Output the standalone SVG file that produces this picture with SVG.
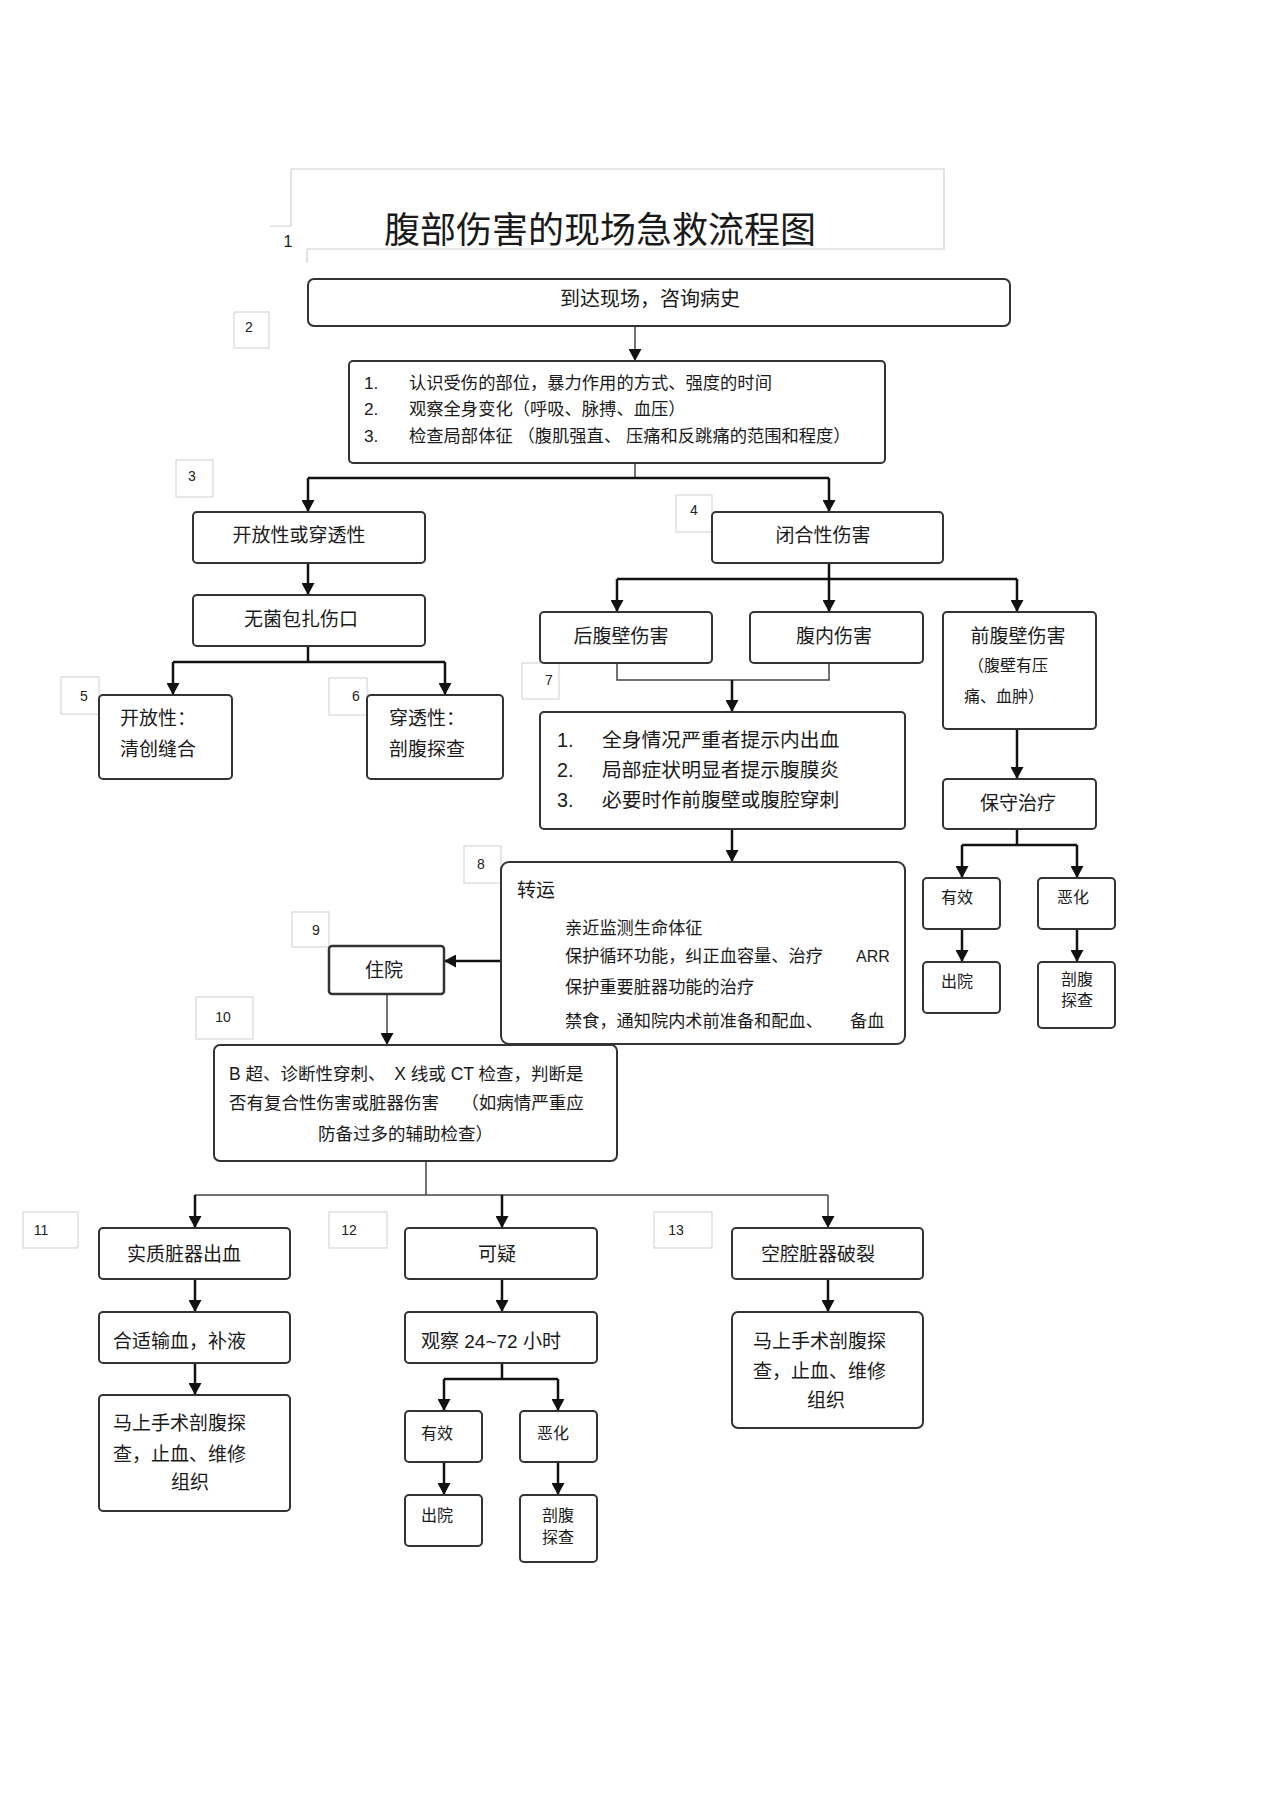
<svg xmlns="http://www.w3.org/2000/svg" width="1274" height="1804" viewBox="0 0 1274 1804">
<defs>
<style>
.bx{fill:#fff;stroke:#333;stroke-width:2}
.lb{fill:#fff;stroke:#cfcfcf;stroke-width:1}
.fr{fill:none;stroke:#cfcfcf;stroke-width:1.2}
.t{font-family:"Liberation Sans","Noto Sans CJK SC",sans-serif;fill:#1a1a1a}
.f20{font-size:20px}.f19{font-size:19px}.f17{font-size:17px}.f16{font-size:16px}
.fa{font-size:17.3px}.fe{font-size:19.8px}.ft{font-size:17.2px}.fb{font-size:17.5px}
.n{font-family:"Liberation Sans",sans-serif;font-size:14px;fill:#222;text-anchor:middle}
.m{text-anchor:middle}
.c{fill:none;stroke:#111;stroke-width:2.5}
.ct{fill:none;stroke:#444;stroke-width:1.5}
</style>
<marker id="ah" markerWidth="12" markerHeight="13" refX="11" refY="6.5" orient="auto" markerUnits="userSpaceOnUse">
<path d="M0,0 L12,6.5 L0,13 z" fill="#111"/>
</marker>
</defs>
<rect width="1274" height="1804" fill="#fff"/>

<g id="title">
<path class="fr" d="M291,226 V169 H944 V249 H307 V263 M270,226 H291"/>
<text class="n" x="288" y="247" style="font-size:16px">1</text>
<text class="t m" x="600" y="243" style="font-size:36px">腹部伤害的现场急救流程图</text>
</g>

<g id="labels">
<rect class="lb" x="234" y="312" width="35" height="36"/><text class="n" x="249" y="332">2</text>
<rect class="lb" x="176" y="460" width="37" height="37"/><text class="n" x="192" y="481">3</text>
<rect class="lb" x="676" y="495" width="36" height="37"/><text class="n" x="694" y="515">4</text>
<rect class="lb" x="61" y="677" width="38" height="37"/><text class="n" x="84" y="701">5</text>
<rect class="lb" x="329" y="678" width="38" height="37"/><text class="n" x="356" y="701">6</text>
<rect class="lb" x="522" y="663" width="37" height="36"/><text class="n" x="549" y="685">7</text>
<rect class="lb" x="464" y="846" width="37" height="37"/><text class="n" x="481" y="869">8</text>
<rect class="lb" x="292" y="912" width="37" height="35"/><text class="n" x="316" y="935">9</text>
<rect class="lb" x="196" y="997" width="57" height="42"/><text class="n" x="223" y="1022">10</text>
<rect class="lb" x="23" y="1212" width="55" height="36"/><text class="n" x="41" y="1235">11</text>
<rect class="lb" x="329" y="1212" width="58" height="36"/><text class="n" x="349" y="1235">12</text>
<rect class="lb" x="654" y="1212" width="58" height="36"/><text class="n" x="676" y="1235">13</text>
</g>

<g id="connectors">
<path class="ct" d="M635,326 V360" marker-end="url(#ah)"/>
<path class="ct" d="M635,463 V478"/>
<path class="c" d="M308,478 H829"/>
<path class="c" d="M308,478 V511" marker-end="url(#ah)"/>
<path class="c" d="M829,478 V511" marker-end="url(#ah)"/>
<path class="c" d="M308,563 V594" marker-end="url(#ah)"/>
<path class="c" d="M308,646 V662 M173,662 H445"/>
<path class="c" d="M173,662 V694" marker-end="url(#ah)"/>
<path class="c" d="M445,662 V694" marker-end="url(#ah)"/>
<path class="c" d="M829,563 V579 M617,579 H1017"/>
<path class="c" d="M617,579 V611" marker-end="url(#ah)"/>
<path class="c" d="M829,579 V611" marker-end="url(#ah)"/>
<path class="c" d="M1017,579 V611" marker-end="url(#ah)"/>
<path class="ct" d="M617,663 V680 H829 V663"/>
<path class="c" d="M732,680 V711" marker-end="url(#ah)"/>
<path class="c" d="M732,829 V861" marker-end="url(#ah)"/>
<path class="c" d="M501,961 H445" marker-end="url(#ah)"/>
<path class="ct" d="M387,994 V1044" marker-end="url(#ah)"/>
<path class="ct" d="M426,1161 V1195"/>
<path class="ct" d="M195,1195 H828"/>
<path class="c" d="M195,1195 V1227" marker-end="url(#ah)"/>
<path class="c" d="M502,1195 V1227" marker-end="url(#ah)"/>
<path class="ct" d="M828,1195 V1227" marker-end="url(#ah)"/>
<path class="c" d="M195,1279 V1311" marker-end="url(#ah)"/>
<path class="c" d="M195,1363 V1394" marker-end="url(#ah)"/>
<path class="c" d="M502,1279 V1311" marker-end="url(#ah)"/>
<path class="c" d="M502,1363 V1379 M444,1379 H558"/>
<path class="c" d="M444,1379 V1410" marker-end="url(#ah)"/>
<path class="c" d="M558,1379 V1410" marker-end="url(#ah)"/>
<path class="c" d="M444,1462 V1494" marker-end="url(#ah)"/>
<path class="c" d="M558,1462 V1494" marker-end="url(#ah)"/>
<path class="c" d="M828,1279 V1311" marker-end="url(#ah)"/>
<path class="c" d="M1017,729 V778" marker-end="url(#ah)"/>
<path class="c" d="M1017,829 V845 M962,845 H1077"/>
<path class="c" d="M962,845 V877" marker-end="url(#ah)"/>
<path class="c" d="M1077,845 V877" marker-end="url(#ah)"/>
<path class="c" d="M962,929 V961" marker-end="url(#ah)"/>
<path class="c" d="M1077,929 V961" marker-end="url(#ah)"/>
</g>

<g id="n-arrive"><rect class="bx" x="308" y="279" width="702" height="47" rx="6"/>
<text class="t f20 m" x="650" y="306">到达现场，咨询病史</text></g>

<g id="n-assess"><rect class="bx" x="349" y="361" width="536" height="102" rx="4"/>
<text class="t fa" x="364" y="389">1.</text><text class="t fa" x="409" y="389">认识受伤的部位，暴力作用的方式、强度的时间</text>
<text class="t fa" x="364" y="415">2.</text><text class="t fa" x="409" y="415">观察全身变化（呼吸、脉搏、血压）</text>
<text class="t fa" x="364" y="442">3.</text><text class="t fa" x="409" y="442">检查局部体征 （腹肌强直、 压痛和反跳痛的范围和程度）</text></g>

<g id="n-open"><rect class="bx" x="193" y="512" width="232" height="51" rx="4"/>
<text class="t f19 m" x="299" y="542">开放性或穿透性</text></g>

<g id="n-sterile"><rect class="bx" x="193" y="595" width="232" height="51" rx="4"/>
<text class="t f19 m" x="301" y="626">无菌包扎伤口</text></g>

<g id="n-debride"><rect class="bx" x="99" y="695" width="133" height="84" rx="4"/>
<text class="t f19" x="120" y="725">开放性：</text><text class="t f19" x="120" y="756">清创缝合</text></g>

<g id="n-penetrate"><rect class="bx" x="367" y="695" width="136" height="84" rx="4"/>
<text class="t f19" x="389" y="725">穿透性：</text><text class="t f19" x="389" y="756">剖腹探查</text></g>

<g id="n-closed"><rect class="bx" x="712" y="512" width="231" height="51" rx="4"/>
<text class="t f19 m" x="823" y="542">闭合性伤害</text></g>

<g id="n-back"><rect class="bx" x="540" y="612" width="172" height="51" rx="4"/>
<text class="t f19 m" x="621" y="643">后腹壁伤害</text></g>

<g id="n-intra"><rect class="bx" x="750" y="612" width="173" height="51" rx="4"/>
<text class="t f19 m" x="834" y="643">腹内伤害</text></g>

<g id="n-front"><rect class="bx" x="943" y="612" width="153" height="117" rx="4"/>
<text class="t f19 m" x="1018" y="643">前腹壁伤害</text>
<text class="t f16" x="968" y="671">（腹壁有压</text>
<text class="t f16" x="964" y="702">痛、血肿）</text></g>

<g id="n-eval"><rect class="bx" x="540" y="712" width="365" height="117" rx="4"/>
<text class="t fe" x="557" y="747">1.</text><text class="t fe" x="602" y="747">全身情况严重者提示内出血</text>
<text class="t fe" x="557" y="777">2.</text><text class="t fe" x="602" y="777">局部症状明显者提示腹膜炎</text>
<text class="t fe" x="557" y="807">3.</text><text class="t fe" x="602" y="807">必要时作前腹壁或腹腔穿刺</text></g>

<g id="n-transport"><rect class="bx" x="501" y="862" width="404" height="182" rx="8"/>
<text class="t f19" x="517" y="897">转运</text>
<text class="t ft" x="565" y="934">亲近监测生命体征</text>
<text class="t ft" x="565" y="962">保护循环功能，纠正血容量、治疗</text>
<text class="t f16" x="856" y="962">ARR</text>
<text class="t ft" x="565" y="993">保护重要脏器功能的治疗</text>
<text class="t ft" x="565" y="1027">禁食，通知院内术前准备和配血、</text>
<text class="t ft" x="850" y="1027">备血</text></g>

<g id="n-hospital"><rect class="bx" x="329" y="946" width="115" height="48" rx="3" style="stroke-width:2.5"/>
<text class="t f19 m" x="384" y="977">住院</text></g>

<g id="n-exam"><rect class="bx" x="214" y="1045" width="403" height="116" rx="6"/>
<text class="t fb" x="229" y="1080">B 超、诊断性穿刺、　X 线或 CT 检查，判断是</text>
<text class="t fb" x="229" y="1109">否有复合性伤害或脏器伤害　 （如病情严重应</text>
<text class="t fb" x="318" y="1140">防备过多的辅助检查）</text></g>

<g id="n-solid"><rect class="bx" x="99" y="1228" width="191" height="51" rx="4"/>
<text class="t f19 m" x="184" y="1261">实质脏器出血</text></g>

<g id="n-transfuse"><rect class="bx" x="99" y="1312" width="191" height="51" rx="4"/>
<text class="t f19" x="113" y="1348">合适输血，补液</text></g>

<g id="n-surgery1"><rect class="bx" x="99" y="1395" width="191" height="116" rx="4"/>
<text class="t f19" x="113" y="1430">马上手术剖腹探</text>
<text class="t f19" x="113" y="1461">查，止血、维修</text>
<text class="t f19 m" x="190" y="1489">组织</text></g>

<g id="n-suspect"><rect class="bx" x="405" y="1228" width="192" height="51" rx="4"/>
<text class="t f19 m" x="497" y="1261">可疑</text></g>

<g id="n-observe"><rect class="bx" x="405" y="1312" width="192" height="51" rx="4"/>
<text class="t f19" x="421" y="1348">观察 24~72 小时</text></g>

<g id="n-effective2"><rect class="bx" x="405" y="1411" width="77" height="51" rx="4"/>
<text class="t f16" x="421" y="1439">有效</text></g>

<g id="n-worse2"><rect class="bx" x="520" y="1411" width="77" height="51" rx="4"/>
<text class="t f16" x="537" y="1439">恶化</text></g>

<g id="n-discharge2"><rect class="bx" x="405" y="1495" width="77" height="51" rx="4"/>
<text class="t f16" x="421" y="1521">出院</text></g>

<g id="n-lap2"><rect class="bx" x="520" y="1495" width="77" height="67" rx="4"/>
<text class="t f16 m" x="558" y="1521">剖腹</text><text class="t f16 m" x="558" y="1543">探查</text></g>

<g id="n-hollow"><rect class="bx" x="732" y="1228" width="191" height="51" rx="4"/>
<text class="t f19 m" x="818" y="1261">空腔脏器破裂</text></g>

<g id="n-surgery2"><rect class="bx" x="732" y="1312" width="191" height="116" rx="6"/>
<text class="t f19" x="753" y="1348">马上手术剖腹探</text>
<text class="t f19" x="753" y="1378">查，止血、维修</text>
<text class="t f19 m" x="826" y="1407">组织</text></g>

<g id="n-conserve"><rect class="bx" x="943" y="779" width="153" height="50" rx="4"/>
<text class="t f19 m" x="1018" y="810">保守治疗</text></g>

<g id="n-effective1"><rect class="bx" x="923" y="878" width="77" height="51" rx="4"/>
<text class="t f16" x="941" y="903">有效</text></g>

<g id="n-worse1"><rect class="bx" x="1038" y="878" width="77" height="51" rx="4"/>
<text class="t f16" x="1057" y="903">恶化</text></g>

<g id="n-discharge1"><rect class="bx" x="923" y="962" width="77" height="51" rx="4"/>
<text class="t f16" x="941" y="987">出院</text></g>

<g id="n-lap1"><rect class="bx" x="1038" y="962" width="77" height="66" rx="4"/>
<text class="t f16 m" x="1077" y="985">剖腹</text><text class="t f16 m" x="1077" y="1006">探查</text></g>
</svg>
